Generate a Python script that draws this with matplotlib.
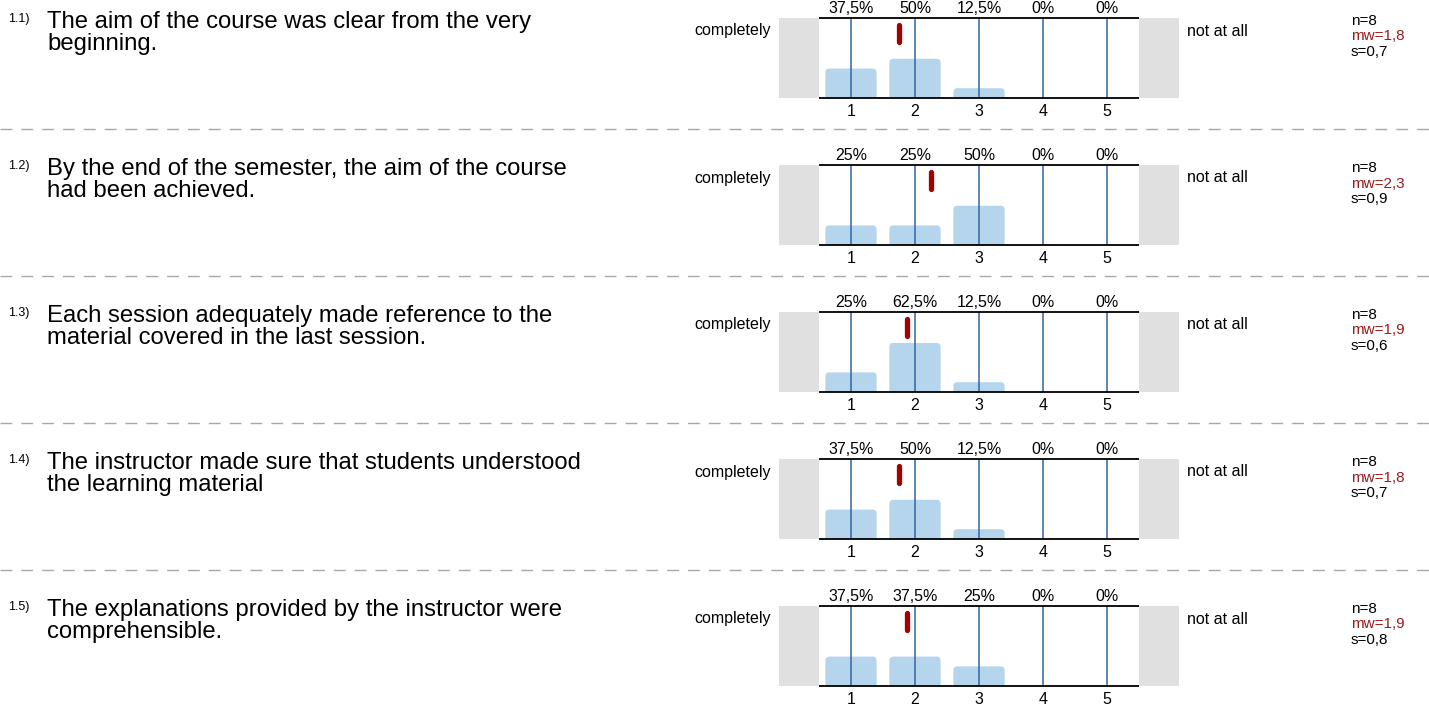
import math
import matplotlib
matplotlib.use("Agg")
from matplotlib import pyplot as plt
from matplotlib.patches import FancyBboxPatch
from matplotlib.lines import Line2D

plt.rcParams['font.family'] = ['Liberation Sans', 'DejaVu Sans']

# survey data
item_ids = ['1.1)', '1.2)', '1.3)', '1.4)', '1.5)']
questions = [
    "The aim of the course was clear from the very\nbeginning.",
    "By the end of the semester, the aim of the course\nhad been achieved.",
    "Each session adequately made reference to the\nmaterial covered in the last session.",
    "The instructor made sure that students understood\nthe learning material",
    "The explanations provided by the instructor were\ncomprehensible.",
]
scale = [1, 2, 3, 4, 5]
percents = [
    [37.5, 50, 12.5, 0, 0],
    [25, 25, 50, 0, 0],
    [25, 62.5, 12.5, 0, 0],
    [37.5, 50, 12.5, 0, 0],
    [37.5, 37.5, 25, 0, 0],
]
n_answers = [8, 8, 8, 8, 8]
std_dev = [0.7, 0.9, 0.6, 0.7, 0.8]
left_label = "completely"
right_label = "not at all"

W, H = 1429, 714
ROW = 147
fig = plt.figure(figsize=(W / 100, H / 100), dpi=100)


def fx(px):
    return px / W


def fy(py):
    return 1 - py / H


def fmt(v):
    s = ('%.1f' % v).rstrip('0').rstrip('.')
    return s.replace('.', ',')


GRAY = '#e0e0e0'
BAR = '#b4d5ec'
VLINE = '#2d67a6'
RED = '#a50000'
YTOP = 1.02

for i in range(len(questions)):
    dy = ROW * i
    pct = percents[i]
    mean = sum(p * v for p, v in zip(pct, scale)) / sum(pct)

    fig.text(fx(8), fy(13 + dy), item_ids[i], fontsize=9, va='top', ha='left')
    fig.text(fx(47), fy(11 + dy), questions[i], fontsize=17.2, va='top',
             ha='left', linespacing=1.0)
    fig.text(fx(771), fy(31 + dy), left_label, fontsize=11.5, va='center', ha='right')
    fig.text(fx(1187), fy(31 + dy), right_label, fontsize=11.5, va='center', ha='left')

    fig.text(fx(1351), fy(21 + dy), 'n=%d' % n_answers[i], fontsize=11, va='center')
    mw = math.floor(mean * 10 + 0.5) / 10
    fig.text(fx(1351), fy(36.5 + dy), 'mw=' + fmt(mw), fontsize=11, va='center',
             color='#9b1c1c')
    fig.text(fx(1351), fy(52 + dy), 's=' + fmt(std_dev[i]), fontsize=11, va='center')

    ax = fig.add_axes([fx(779), fy(98 + dy), 400 / W, 80 / H])
    ax.set_xlim(-0.125, 6.125)
    ax.set_ylim(0, YTOP)
    for sp in ax.spines.values():
        sp.set_visible(False)
    ax.axvspan(-0.125, 0.5, color=GRAY, lw=0, zorder=0)
    ax.axvspan(5.5, 6.125, color=GRAY, lw=0, zorder=0)

    for x, p in zip(scale, pct):
        if p > 0:
            h = p / 100
            ax.add_patch(FancyBboxPatch((x - 0.4, -0.1), 0.8, h + 0.1,
                                        boxstyle="round,pad=0,rounding_size=0.06",
                                        mutation_aspect=0.85,
                                        fc=BAR, ec='none', zorder=2))
        ax.annotate(fmt(p) + '%', (x, YTOP), xytext=(0, 1.5),
                    textcoords='offset points', ha='center', va='bottom',
                    fontsize=11.5, annotation_clip=False)

    ax.vlines(scale, 0, YTOP, color=VLINE, lw=1.1, zorder=3)
    ax.hlines([0, YTOP], 0.5, 5.5, color='black', lw=1.3, zorder=4, clip_on=False)
    ax.plot([mean, mean], [0.937, 0.71], color=RED, lw=3.8,
            solid_capstyle='round', zorder=5)

    ax.set_yticks([])
    ax.set_xticks(scale)
    ax.set_xticklabels([str(s) for s in scale], fontsize=11.5)
    ax.tick_params(axis='x', length=0, pad=4)

    if i < len(questions) - 1:
        yy = fy(129 + dy)
        fig.add_artist(Line2D([0, 1], [yy, yy], color='#a8a8a8', lw=1.0,
                              dashes=(8.5, 6.5)))

fig.savefig('out.png', dpi=100)
